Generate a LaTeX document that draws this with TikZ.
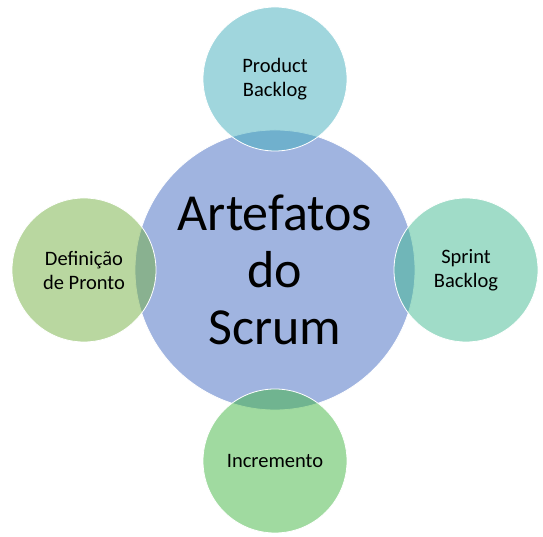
\documentclass[tikz,border=0pt]{standalone}
\usepackage{fontspec}
\setmainfont{Carlito}
\usetikzlibrary{positioning}

\definecolor{centro}{RGB}{160,180,224}
\definecolor{product}{RGB}{65,173,187}
\definecolor{sprint}{RGB}{65,185,145}
\definecolor{incremento}{RGB}{65,181,65}
\definecolor{pronto}{RGB}{115,175,65}

\begin{document}
\begin{tikzpicture}[x=1pt,y=1pt,node distance=-21pt,
  main node/.style={circle,draw=white,line width=0.8pt,inner sep=0pt,outer sep=0pt,align=center},
  small node/.style={main node,minimum size=144pt,fill opacity=0.5,text opacity=1,font=\fontsize{20.5}{24}\selectfont}]

            \useasboundingbox (0,0) rectangle (543,537);

            \node[main node, fill=centro, minimum size=280pt, font=\fontsize{52}{57}\selectfont] (artefatos) at (275,267) {Artefatos\\do\\Scrum};

            \node[small node, fill=product] (product) [above = of artefatos] {Product\\Backlog};
            \node[small node, fill=sprint] (sprint) [right = of artefatos] {Sprint\\Backlog};
            \node[small node, fill=incremento] (incremento) [below = of artefatos] {Incremento};
            \node[small node, fill=pronto] (pronto) [left = of artefatos] {Definição\\de Pronto};

        \end{tikzpicture}
\end{document}
